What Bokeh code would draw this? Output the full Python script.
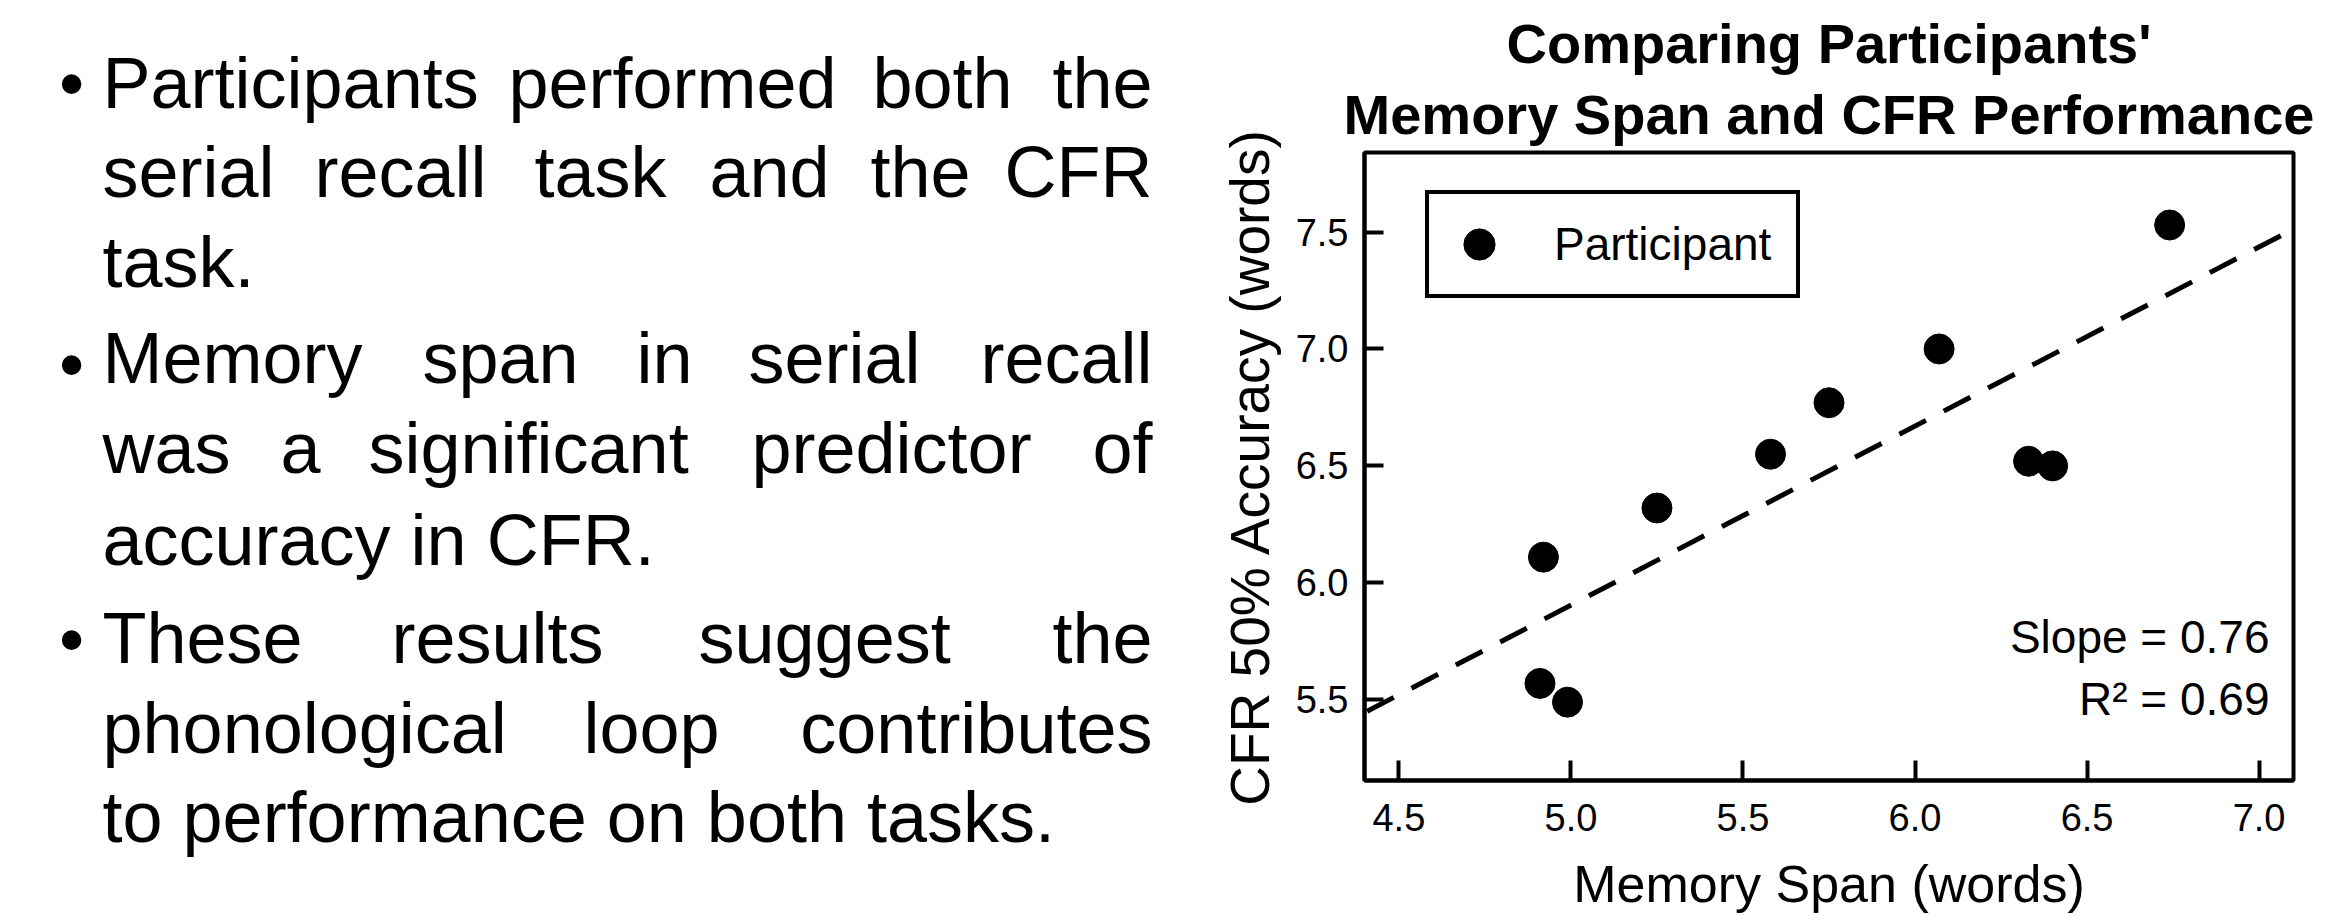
import numpy as np
from bokeh.plotting import figure
from bokeh.models import (Range1d, FixedTicker, PrintfTickFormatter, Legend, LegendItem,
                          Slope, Label, Title, ColumnDataSource)
from bokeh.layouts import row
from bokeh.embed import file_html
from bokeh.resources import INLINE
from bokeh.core.properties import value

# ---------------- data ----------------
memory_span = [4.91, 4.99, 4.92, 5.25, 5.58, 5.75, 6.07, 6.33, 6.40, 6.74]
cfr_accuracy = [5.57, 5.49, 6.11, 6.32, 6.55, 6.77, 7.00, 6.52, 6.50, 7.53]
x_ticks = [4.5, 5.0, 5.5, 6.0, 6.5, 7.0]
y_ticks = [5.5, 6.0, 6.5, 7.0, 7.5]
slope_shown = 0.76
r2_shown = 0.69
title_lines = ["Comparing Participants'", "Memory Span and CFR Performance"]
legend_label = "Participant"
x_label = "Memory Span (words)"
y_label = "CFR 50% Accuracy (words)"

bullet_lines = [
    ["Participants", "performed", "both", "the"],
    ["serial", "recall", "task", "and", "the", "CFR"],
    ["task."],
    ["Memory", "span", "in", "serial", "recall"],
    ["was", "a", "significant", "predictor", "of"],
    ["accuracy in CFR."],
    ["These", "results", "suggest", "the"],
    ["phonological", "loop", "contributes"],
    ["to performance on both tasks."],
]
bullet_starts = [0, 3, 6]  # lines that begin a bullet point

# ---------------- page layout (pixels) ----------------
W, H = 2336, 916
TEXT_W = 1172
FRAME_LEFT, FRAME_RIGHT, FRAME_TOP, FRAME_BOTTOM = 1364, 2293, 152, 780
TEXT_LEFT = 102
TEXT_RIGHT = 1152
BULLET_X = 71
BEARING = 4
line_baselines = [108, 197, 287, 383, 473, 565, 663, 753, 842]
bullet_centers = [82, 363, 638]
# left edges of the middle words of justified lines (first word at TEXT_LEFT, last word right-aligned)
middle_word_x = [
    [512, 876],
    [318, 538, 713, 874],
    [],
    [426, 640, 752],
    [284, 372, 755],
    [],
    [395, 702],
    [587],
    [],
]
CAP_MID = 26

FONT = "Liberation Sans"

# ---------------- left text panel ----------------
q = figure(frame_width=TEXT_W, frame_height=H, x_range=Range1d(0, TEXT_W), y_range=Range1d(H, 0),
           output_backend="svg", toolbar_location=None, title=None, min_border=0,
           x_axis_type=None, y_axis_type=None)
q.grid.visible = False
q.outline_line_color = None
q.background_fill_color = "white"
q.border_fill_color = "white"

lx, ly, lt = [], [], []
rx, ry, rt = [], [], []
for i, words in enumerate(bullet_lines):
    yc = line_baselines[i] - CAP_MID
    lx.append(TEXT_LEFT); ly.append(yc); lt.append(words[0])
    if len(words) == 1:
        continue
    for w, xs in zip(words[1:-1], middle_word_x[i]):
        lx.append(xs - BEARING); ly.append(yc); lt.append(w)
    rx.append(TEXT_RIGHT); ry.append(yc); rt.append(words[-1])

text_style = dict(text_font=value(FONT), text_font_size=value("72px"),
                  text_baseline="middle", text_color="black")
q.text(x=lx, y=ly, text=lt, text_align="left", **text_style)
q.text(x=rx, y=ry, text=rt, text_align="right", **text_style)
q.text(x=[BULLET_X] * len(bullet_starts), y=bullet_centers,
       text=["\u2022"] * len(bullet_starts), text_align="center", **text_style)

# ---------------- scatter chart ----------------
p = figure(frame_width=FRAME_RIGHT - FRAME_LEFT, frame_height=FRAME_BOTTOM - FRAME_TOP,
           x_range=Range1d(4.4, 7.1), y_range=Range1d(5.155, 7.84),
           output_backend="svg", toolbar_location=None, title=None,
           min_border_left=FRAME_LEFT - TEXT_W, min_border_right=W - FRAME_RIGHT,
           min_border_top=FRAME_TOP, min_border_bottom=H - FRAME_BOTTOM)
for fig in (p, q):
    try:
        fig.frame_align = False
    except Exception:
        pass
p.grid.visible = False
p.outline_line_color = "black"
p.outline_line_width = 4
p.outline_line_alpha = 1.0
p.background_fill_color = "white"
p.border_fill_color = "white"

for ax in (p.xaxis[0], p.yaxis[0]):
    ax.axis_line_width = 4
    ax.axis_line_color = "black"
    ax.major_tick_line_width = 4
    ax.major_tick_line_color = "black"
    ax.major_tick_out = 0
    ax.minor_tick_line_color = None
    ax.major_label_text_font = FONT
    ax.major_label_text_font_size = "38px"
    ax.major_label_text_color = "black"
    ax.axis_label_text_font = FONT
    ax.axis_label_text_font_style = "normal"
    ax.axis_label_text_color = "black"
    ax.formatter = PrintfTickFormatter(format="%.1f")

p.xaxis.ticker = FixedTicker(ticks=x_ticks)
p.yaxis.ticker = FixedTicker(ticks=y_ticks)
p.xaxis.major_tick_in = 20
p.yaxis.major_tick_in = 19
p.xaxis.axis_label = x_label
p.yaxis.axis_label = y_label
p.xaxis.axis_label_text_font_size = "52px"
p.yaxis.axis_label_text_font_size = "55px"
p.xaxis.major_label_standoff = 23
p.yaxis.major_label_standoff = 16
p.xaxis.axis_label_standoff = 21
p.yaxis.axis_label_standoff = 12

# regression line fitted to the participants
fit_slope, fit_intercept = np.polyfit(memory_span, cfr_accuracy, 1)
p.add_layout(Slope(gradient=fit_slope, y_intercept=fit_intercept, line_color="black",
                   line_width=5, line_dash="30 20"))

src = ColumnDataSource(data=dict(x=memory_span, y=cfr_accuracy))
pts = p.scatter("x", "y", source=src, size=30, fill_color="black", line_color="black")

legend = Legend(items=[LegendItem(label=legend_label, renderers=[pts])],
                location=(61, 482), padding=11, margin=0, glyph_width=78, glyph_height=78,
                label_standoff=36, label_width=231, label_text_font=FONT,
                label_text_font_size="46px", label_text_color="black",
                border_line_color="black", border_line_width=4, border_line_alpha=1.0,
                background_fill_color="white", background_fill_alpha=1.0)
p.add_layout(legend)

# fit statistics
p.add_layout(Label(x=2269 - FRAME_LEFT, y=FRAME_BOTTOM - 636, x_units="screen", y_units="screen",
                   text=f"Slope = {slope_shown:.2f}", text_align="right",
                   text_baseline="middle", text_font=FONT, text_font_size="46px",
                   text_color="black"))
p.add_layout(Label(x=2269 - FRAME_LEFT, y=FRAME_BOTTOM - 698, x_units="screen", y_units="screen",
                   text=f"R\u00b2 = {r2_shown:.2f}", text_align="right",
                   text_baseline="middle", text_font=FONT, text_font_size="46px",
                   text_color="black"))

# two-line title
t2 = Title(text=title_lines[1], align="center", text_font=FONT, text_font_size="56px",
           text_font_style="bold", text_color="black", standoff=13)
p.add_layout(t2, "above")
t1 = Title(text=title_lines[0], align="center", text_font=FONT, text_font_size="56px",
           text_font_style="bold", text_color="black", standoff=0)
p.add_layout(t1, "above")

layout = row(q, p)
open("out.html", "w").write(file_html(layout, INLINE))
